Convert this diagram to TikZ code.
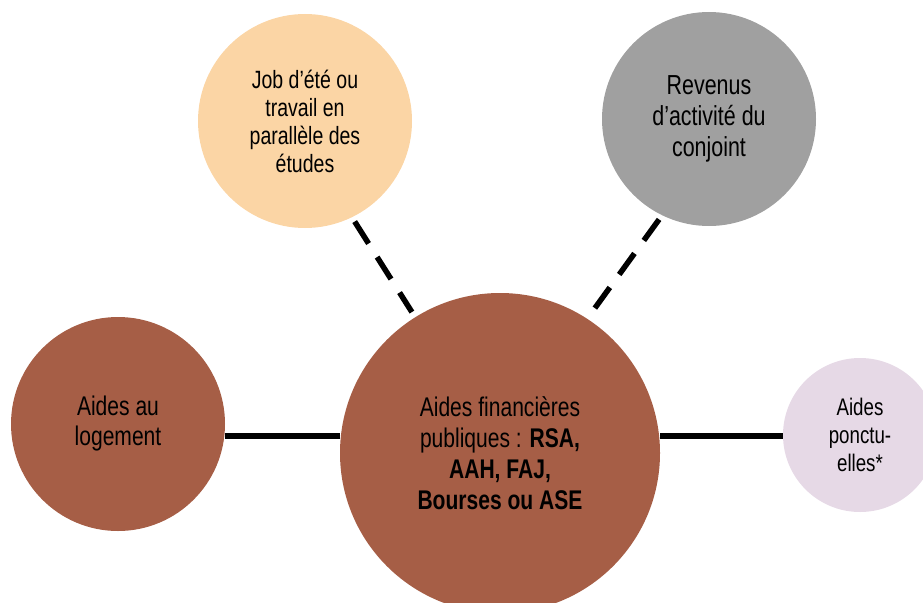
\documentclass[tikz,border=0pt]{standalone}
\usepackage{fontspec}
\setmainfont{Liberation Sans}[FakeStretch=0.78]
\definecolor{peach}{HTML}{FBD5A5}
\definecolor{greyc}{HTML}{A0A0A0}
\definecolor{brownc}{HTML}{A65E46}
\definecolor{lavc}{HTML}{E6D9E6}
\begin{document}
\begin{tikzpicture}[x=1pt,y=-1pt,
  bubble/.style={circle,inner sep=0pt,align=center,text=black,
    font=\fontsize{25}{28}\selectfont},
  solidlink/.style={line width=5.5pt,black},
  dashlink/.style={line width=5.5pt,black,dash pattern=on 26pt off 16pt}]
\useasboundingbox (0,0) rectangle (923,602);
\clip (0,0) rectangle (923,602);
\node[bubble,fill=peach,minimum size=214pt] (job) at (305,121)
  {Job d’été ou\\travail en\\parallèle des\\études};
\node[bubble,fill=greyc,minimum size=214pt,font=\fontsize{27.5}{31}\selectfont] (rev) at (709,119)
  {Revenus\\d’activité du\\conjoint};
\node[bubble,fill=brownc,minimum size=214pt,font=\fontsize{27}{30}\selectfont] (log) at (118,424)
  {Aides au\\logement};
\node[bubble,fill=brownc,minimum size=320pt,font=\fontsize{27}{31}\selectfont] (main) at (500,453)
  {Aides financières\\publiques : \textbf{RSA,}\\\textbf{AAH, FAJ,}\\\textbf{Bourses ou ASE}};
\node[bubble,fill=lavc,minimum size=154pt,font=\fontsize{24}{28}\selectfont] (pon) at (860,435)
  {Aides\\ponctu-\\elles*};
\coordinate (lvl) at (0,436);
\draw[solidlink] (log.east |- lvl) -- (main.west |- lvl);
\draw[solidlink] (main.east |- lvl) -- (pon.west |- lvl);
\draw[dashlink,shorten <=5pt,shorten >=6pt] (job.296) -- (main.122.7);
\draw[dashlink,shorten <=5pt,shorten >=13pt] (rev.244) -- (main.57.5);
\end{tikzpicture}
\end{document}
